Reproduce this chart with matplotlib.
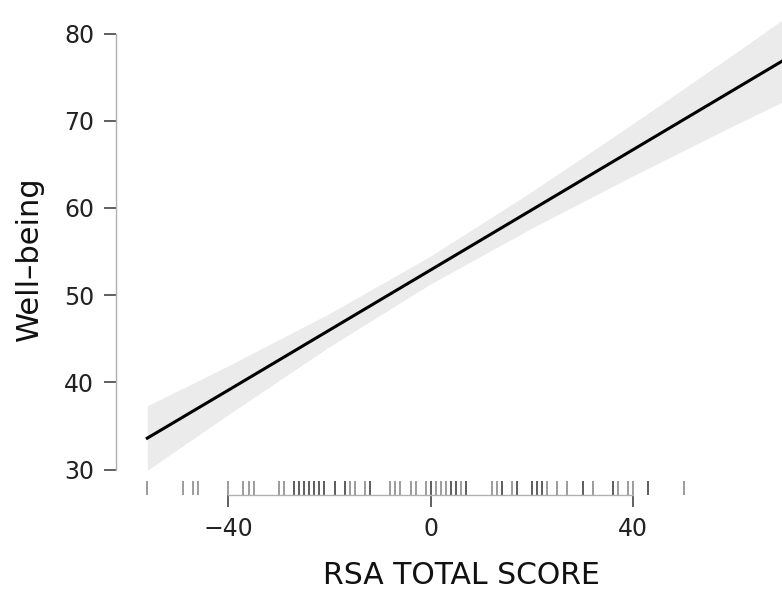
import numpy as np
import matplotlib
matplotlib.use("Agg")
import matplotlib.pyplot as plt

# fitted effect of RSA total score on well-being
fit_x = [-56, -40, -20, 0, 20, 40, 60, 70]
fit_y = [33.6, 39.1, 46.0, 52.9, 59.8, 66.7, 73.6, 77.05]
ci_lo = [29.9, 36.3, 44.1, 51.3, 57.7, 63.7, 69.5, 72.3]
ci_hi = [37.3, 41.9, 47.9, 54.5, 61.9, 69.7, 77.7, 81.8]

# observed RSA total scores for the rug (repeated values draw darker)
rug = [-56, -49, -47, -46, -40, -37, -36, -35, -30, -29,
       -27, -27, -26, -26, -25, -25, -24, -24, -23, -23, -22, -22, -21, -21,
       -19, -19, -17, -17, -16, -15, -13, -12, -12,
       -8, -7, -6, -4, -3, -1, 0, 0, 1, 2, 3, 4, 4, 5, 5, 6, 7, 7,
       12, 13, 14, 14, 16, 17, 17, 20, 20, 21, 21, 22, 22, 23, 25, 27,
       30, 30, 32, 36, 36, 37, 39, 40, 43, 43, 50]

xticks = [-40, 0, 40]
yticks = [30, 40, 50, 60, 70, 80]

plt.rcParams['font.family'] = ['DejaVu Sans']

fig = plt.figure(figsize=(7.82, 5.91), dpi=100)
ax = fig.add_axes([116 / 782, 96 / 591, 1 - 116 / 782, 495 / 591])

ax.fill_between(fit_x, ci_lo, ci_hi, color='#ebebeb', lw=0, zorder=1)
ax.plot(fit_x, fit_y, color='black', lw=2.2, zorder=3)

# rug along the bottom of the panel
ax.vlines(rug, 0, 0.029, transform=ax.get_xaxis_transform(),
          color='black', alpha=0.42, lw=1.3, zorder=2)

ax.set_xlim(-62.18, 69.37)
ax.set_ylim(27.08, 83.85)

for s in ['top', 'right']:
    ax.spines[s].set_visible(False)
ax.spines['left'].set_bounds(30, 80)
ax.spines['bottom'].set_bounds(-40, 40)
for s in ['left', 'bottom']:
    ax.spines[s].set_color('#b0b0b0')
    ax.spines[s].set_linewidth(1.0)

ax.set_xticks(xticks)
ax.set_yticks(yticks)
ax.set_xticklabels(['\u221240', '0', '40'])
ax.tick_params(axis='both', length=8.6, width=1.2, color='#444444',
               labelsize=17, pad=7, labelcolor='#222222')

ax.set_xlabel('RSA TOTAL SCORE', fontsize=21.5, color='#111111')
ax.set_ylabel('Well\u2013being', fontsize=22, color='#111111')
# the original plot region runs a little past the cropped image edges
ax.xaxis.set_label_coords(0.519, -0.134)
ax.yaxis.set_label_coords(-0.108, 0.478)

fig.savefig('out.png', dpi=100)
